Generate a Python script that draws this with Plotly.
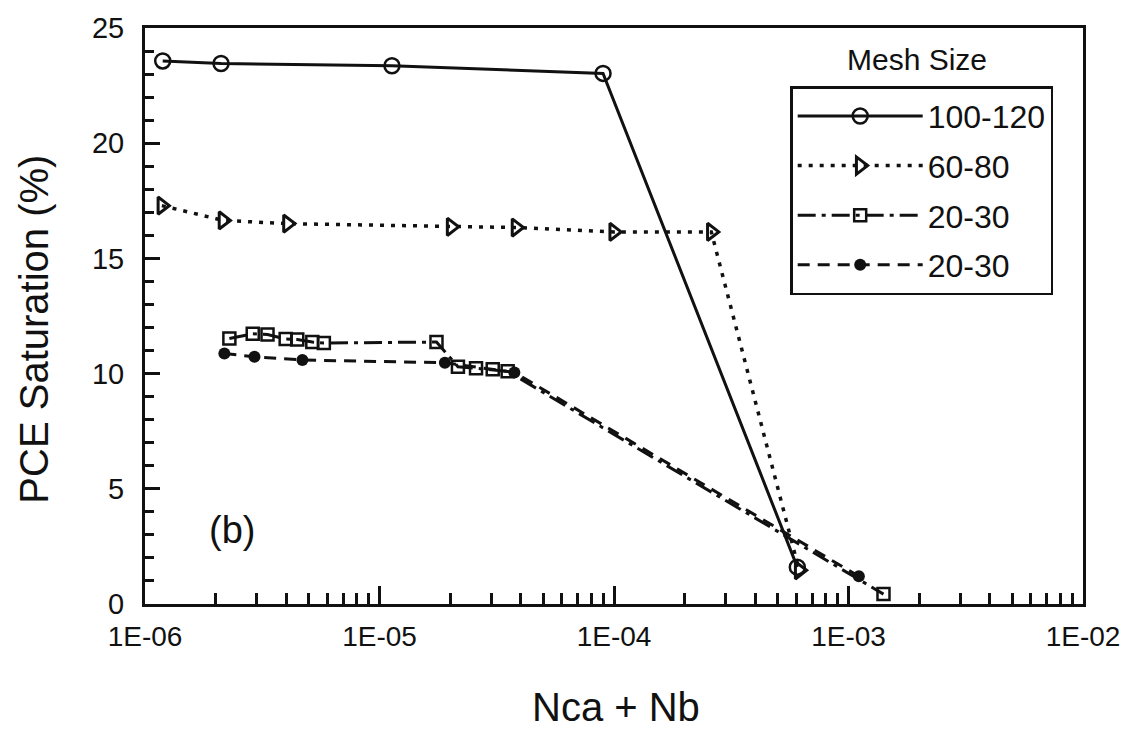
import plotly.graph_objects as go

# ---- data ----
series_names = ["100-120", "60-80", "20-30", "20-30"]

x_circle = [1.19e-6, 2.11e-6, 1.13e-5, 8.98e-5, 6.05e-4]
y_circle = [23.57, 23.46, 23.36, 23.03, 1.6]

x_tri = [1.18e-6, 2.15e-6, 4.05e-6, 2.02e-5, 3.82e-5, 9.97e-5, 2.6e-4, 6.16e-4]
y_tri = [17.29, 16.65, 16.51, 16.37, 16.34, 16.15, 16.15, 1.46]

x_sq = [2.29e-6, 2.88e-6, 3.33e-6, 3.98e-6, 4.46e-6, 5.17e-6, 5.79e-6, 1.75e-5,
        2.16e-5, 2.58e-5, 3.04e-5, 3.52e-5, 1.41e-3]
y_sq = [11.52, 11.73, 11.7, 11.5, 11.48, 11.37, 11.33, 11.37,
        10.3, 10.23, 10.19, 10.1, 0.43]

x_dot = [2.18e-6, 2.93e-6, 4.69e-6, 1.9e-5, 3.76e-5, 1.107e-3]
y_dot = [10.87, 10.73, 10.59, 10.47, 10.05, 1.2]

x_major = [1e-6, 1e-5, 1e-4, 1e-3, 1e-2]
x_major_text = ["1E-06", "1E-05", "1E-04", "1E-03", "1E-02"]
x_minor = [m * d for d in [1e-6, 1e-5, 1e-4, 1e-3] for m in range(2, 10)]

FONT = "Liberation Sans, Arial, Helvetica, sans-serif"
BLACK = "#111111"

fig = go.Figure()

fig.add_trace(go.Scatter(
    x=x_circle, y=y_circle, name=series_names[0], mode="lines+markers",
    line=dict(color=BLACK, width=3, dash="solid"),
    marker=dict(symbol="circle-open", size=15, color=BLACK, line=dict(width=2.5)),
    legendgroup="a"))
fig.add_trace(go.Scatter(
    x=x_tri, y=y_tri, name=series_names[1], mode="lines+markers",
    line=dict(color=BLACK, width=3.5, dash="4px,7px"),
    marker=dict(symbol="triangle-right-open", size=15, color=BLACK, line=dict(width=3)),
    legendgroup="b"))
fig.add_trace(go.Scatter(
    x=x_sq, y=y_sq, name=series_names[2], mode="lines+markers",
    line=dict(color=BLACK, width=3, dash="18px,6px,4px,6px"),
    marker=dict(symbol="square-open", size=12, color=BLACK, line=dict(width=2.5)),
    legendgroup="c"))
fig.add_trace(go.Scatter(
    x=x_dot, y=y_dot, name=series_names[3], mode="lines+markers",
    line=dict(color=BLACK, width=3, dash="12px,8px"),
    marker=dict(symbol="circle", size=12, color=BLACK),
    legendgroup="d"))

L, R, T, B = 145, 42, 20, 125
W, H = 1132, 729
pw, ph = W - L - R, H - T - B


def px(xp):
    return (xp - L) / pw


def py(yp):
    return (H - B - yp) / ph


fig.update_layout(
    width=W, height=H,
    margin=dict(l=L, r=R, t=T, b=B),
    paper_bgcolor="white", plot_bgcolor="white",
    font=dict(family=FONT, color=BLACK, size=26),
    showlegend=True,
    legend=dict(
        x=px(795), y=py(79), xanchor="left", yanchor="top",
        bordercolor=BLACK, borderwidth=2.5, bgcolor="white",
        font=dict(family=FONT, size=32, color=BLACK),
        traceorder="grouped", tracegroupgap=5,
        itemwidth=125,
    ),
    xaxis=dict(
        type="log", range=[-6, -2],
        tickmode="array", tickvals=x_major, ticktext=x_major_text,
        ticks="inside", ticklen=18, tickwidth=2.5, tickcolor=BLACK,
        minor=dict(tickmode="array", tickvals=x_minor, ticks="inside",
                   ticklen=11, tickwidth=2.5, tickcolor=BLACK),
        showline=True, linecolor=BLACK, linewidth=3, mirror=True,
        showgrid=False, zeroline=False,
        ticklabelstandoff=5,
        tickfont=dict(family=FONT, size=28, color=BLACK),
    ),
    yaxis=dict(
        range=[0, 25], tickmode="linear", tick0=0, dtick=5,
        ticks="inside", ticklen=15, tickwidth=2.5, tickcolor=BLACK,
        minor=dict(dtick=1, ticks="inside", ticklen=9, tickwidth=2.5, tickcolor=BLACK),
        showline=True, linecolor=BLACK, linewidth=3, mirror=True,
        showgrid=False, zeroline=False,
        ticklabelstandoff=12,
        tickfont=dict(family=FONT, size=29, color=BLACK),
    ),
    annotations=[
        dict(text="PCE Saturation (%)", xref="paper", yref="paper",
             x=px(33), y=py(325), xanchor="center", yanchor="middle",
             textangle=-90, showarrow=False,
             font=dict(family=FONT, size=40, color=BLACK)),
        dict(text="Nca + Nb", xref="paper", yref="paper",
             x=px(620), y=py(708), xanchor="center", yanchor="middle",
             showarrow=False,
             font=dict(family=FONT, size=40, color=BLACK)),
        dict(text="(b)", xref="paper", yref="paper",
             x=px(233), y=py(529), xanchor="center", yanchor="middle",
             showarrow=False,
             font=dict(family=FONT, size=38, color=BLACK)),
        dict(text="Mesh Size", xref="paper", yref="paper",
             x=px(923), y=py(52), xanchor="center", yanchor="middle",
             showarrow=False,
             font=dict(family=FONT, size=30, color=BLACK)),
    ],
)

fig.write_html("out.html")
